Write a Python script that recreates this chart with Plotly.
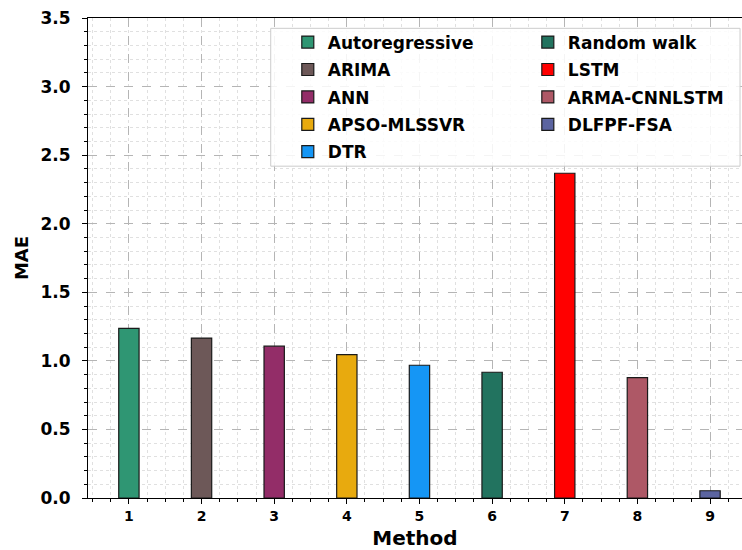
import plotly.graph_objects as go

methods = ["Autoregressive", "ARIMA", "ANN", "APSO-MLSSVR", "DTR",
           "Random walk", "LSTM", "ARMA-CNNLSTM", "DLFPF-FSA"]
positions = [1, 2, 3, 4, 5, 6, 7, 8, 9]
mae = [1.237, 1.166, 1.107, 1.046, 0.968, 0.917, 2.368, 0.878, 0.053]
colors = ["#2f9673", "#6d5858", "#932d68", "#e8aa0e", "#1596f5",
          "#22735f", "#ff0000", "#ae5866", "#5b64a0"]

FONT = "DejaVu Sans"
fig = go.Figure()
for i, (m, x, v, c) in enumerate(zip(methods, positions, mae, colors)):
    fig.add_trace(go.Bar(
        x=[x], y=[v], name=m, width=0.28,
        marker=dict(color=c, line=dict(color="#1a1a1a", width=1.2)),
        legend="legend" if i < 5 else "legend2",
        legendgroup=m,
    ))

leg_common = dict(
    xanchor="left", yanchor="top", orientation="v",
    bgcolor="rgba(0,0,0,0)", borderwidth=0, tracegroupgap=2.3,
    itemwidth=30,
    font=dict(family=FONT, size=17, color="black", weight="bold"),
    traceorder="grouped",
)

fig.update_layout(
    width=742, height=550,
    margin=dict(l=88, r=0, t=18, b=52),
    paper_bgcolor="white", plot_bgcolor="white",
    barmode="overlay",
    font=dict(family=FONT, color="black", weight="bold"),
    showlegend=True,
    legend=dict(x=0.3055, y=0.9864, **leg_common),
    legend2=dict(x=0.6725, y=0.9864, **leg_common),
    shapes=[dict(type="rect", xref="paper", yref="paper",
                 x0=0.2794, x1=0.997, y0=0.6913, y1=0.9785,
                 fillcolor="rgba(255,255,255,0.85)",
                 line=dict(color="#cccccc", width=1), layer="above")],
    xaxis=dict(
        range=[0.437, 9.44], tickmode="array", tickvals=positions,
        ticktext=[str(p) for p in positions],
        ticks="outside", ticklen=5, tickwidth=1, tickcolor="black",
        tickfont=dict(family=FONT, size=14, weight="bold"),
        showline=True, linecolor="black", linewidth=1.2, mirror=True,
        showgrid=True, gridcolor="#b5b5b5", griddash="dash", gridwidth=1,
        zeroline=False,
        minor=dict(tick0=0, dtick=0.25, ticks="outside", ticklen=3,
                   tickcolor="black", showgrid=True, gridcolor="#e0e0e0",
                   griddash="dot", gridwidth=1),
        title=dict(text="Method", standoff=10,
                   font=dict(family=FONT, size=20, weight="bold")),
    ),
    yaxis=dict(
        range=[0, 3.5], tick0=0, dtick=0.5, tickformat=".1f",
        ticks="outside", ticklen=5, tickwidth=1, tickcolor="black",
        ticklabelstandoff=8,
        tickfont=dict(family=FONT, size=17, weight="bold"),
        showline=True, linecolor="black", linewidth=1.2, mirror=False,
        showgrid=True, gridcolor="#b5b5b5", griddash="dash", gridwidth=1,
        zeroline=False,
        minor=dict(tick0=0, dtick=0.1, ticks="outside", ticklen=3,
                   tickcolor="black", showgrid=True, gridcolor="#e0e0e0",
                   griddash="dot", gridwidth=1),
        title=dict(text="MAE", standoff=7,
                   font=dict(family=FONT, size=18, weight="bold")),
    ),
)

fig.write_html("out.html")
